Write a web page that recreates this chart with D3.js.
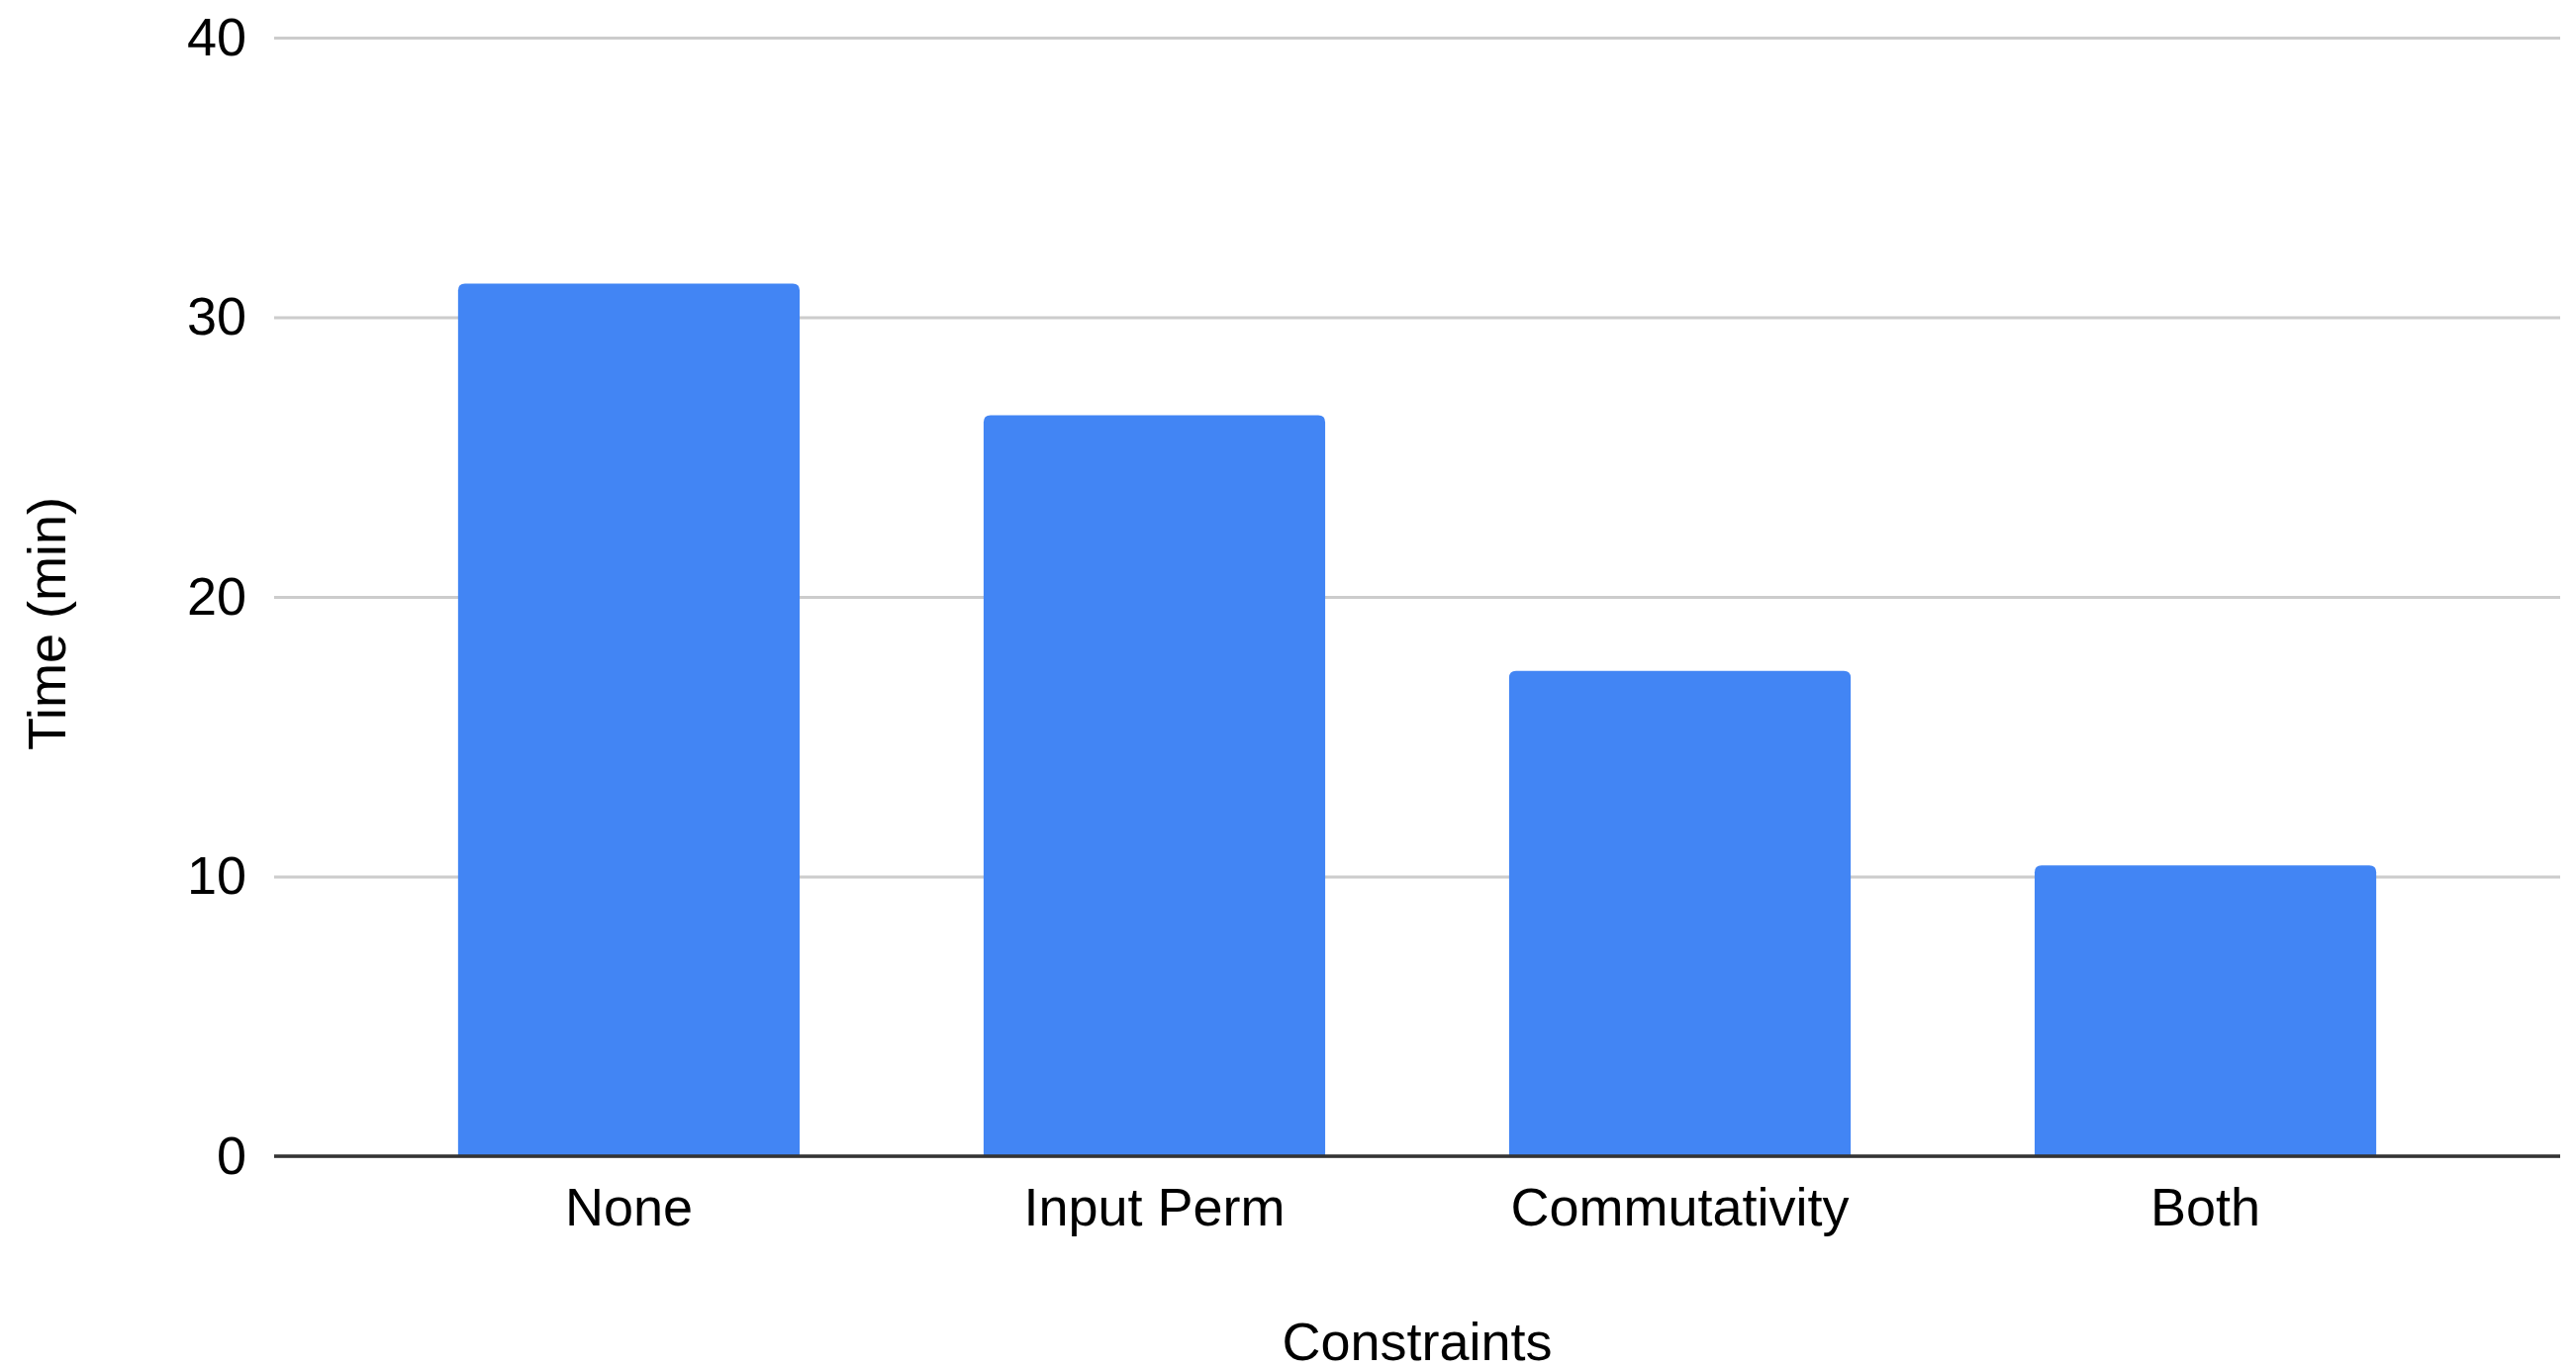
<!DOCTYPE html>
<html>
<head>
<meta charset="utf-8">
<script src="https://cdn.jsdelivr.net/npm/d3@7"></script>
<style>
  html, body { margin: 0; padding: 0; background: #fff; }
  svg { display: block; }
  text { font-family: "Liberation Sans", Arial, sans-serif; fill: #000; }
</style>
</head>
<body>
<svg id="chart" width="2603" height="1384"></svg>
<script>
const categories = ["None", "Input Perm", "Commutativity", "Both"];
const values = [31.2, 26.5, 17.35, 10.4];
const yTicks = [0, 10, 20, 30, 40];
const xTitle = "Constraints";
const yTitle = "Time (min)";

const W = 2603, H = 1384;
const plot = { left: 277, right: 2587, top: 38, bottom: 1168 };
const svg = d3.select("#chart");

const x = d3.scaleBand().domain(categories).range([plot.left, plot.right]).padding(0.35);
const y = d3.scaleLinear().domain([0, 40]).range([plot.bottom, plot.top]);

// gridlines + y labels
const yAxis = d3.axisLeft(y).tickValues(yTicks).tickSize(-(plot.right - plot.left)).tickPadding(28).tickFormat(d3.format("d"));
const gy = svg.append("g").attr("transform", `translate(${plot.left},0)`).call(yAxis);
gy.select(".domain").remove();
gy.selectAll(".tick line").attr("stroke", "#cccccc").attr("stroke-width", 3);
gy.selectAll(".tick text").attr("font-size", 54).attr("fill", "#000")
  .attr("font-family", "'Liberation Sans', Arial, sans-serif");

// bars with rounded top corners
const r = 7;
function barPath(d, i) {
  const x0 = x(categories[i]), x1 = x0 + x.bandwidth();
  const yt = y(d), yb = y(0);
  return `M${x0},${yb} L${x0},${yt + r} Q${x0},${yt} ${x0 + r},${yt} L${x1 - r},${yt} Q${x1},${yt} ${x1},${yt + r} L${x1},${yb} Z`;
}
svg.append("g").selectAll("path").data(values).join("path")
  .attr("d", barPath).attr("fill", "#4285f4");

// baseline
svg.append("line").attr("x1", plot.left).attr("x2", plot.right)
  .attr("y1", y(0)).attr("y2", y(0)).attr("stroke", "#333333").attr("stroke-width", 3.5);

// x axis labels
const xAxis = d3.axisBottom(x).tickSize(0).tickPadding(32);
const gx = svg.append("g").attr("transform", `translate(0,${plot.bottom})`).call(xAxis);
gx.select(".domain").remove();
gx.selectAll(".tick text").attr("font-size", 54).attr("fill", "#000")
  .attr("font-family", "'Liberation Sans', Arial, sans-serif");

// axis titles
svg.append("text").attr("x", (plot.left + plot.right) / 2).attr("y", 1374)
  .attr("text-anchor", "middle").attr("font-size", 54).text(xTitle);
svg.append("text").attr("transform", `translate(66,630) rotate(-90)`)
  .attr("text-anchor", "middle").attr("font-size", 54).text(yTitle);
</script>
</body>
</html>
